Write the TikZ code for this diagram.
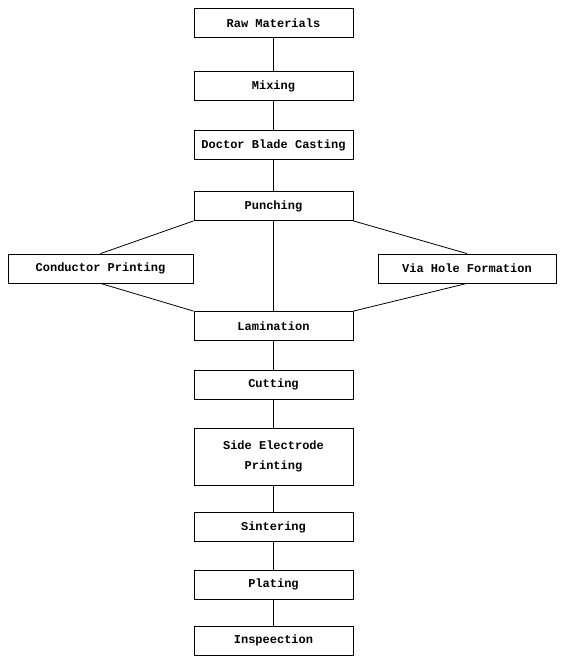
\documentclass[tikz,border=0pt]{standalone}
\usepackage{fontspec}
\setmonofont{Liberation Mono}
\usepackage{tikz}
\usetikzlibrary{positioning}

\begin{document}
\begin{tikzpicture}[x=1pt, y=-1pt,
    stage/.style={draw, line width=0.8pt, minimum width=159pt, minimum height=29pt, inner sep=0pt, font=\ttfamily\bfseries\fontsize{12}{20}\selectfont, align=center},
    link/.style={line width=0.8pt}]
\useasboundingbox (0,0) rectangle (564,662);

\node[stage] (raw) at (273.5, 23) {Raw Materials};
\node[stage] (mix) at (273.5, 86) {Mixing};
\node[stage] (cast) at (273.5, 145) {Doctor Blade Casting};
\node[stage] (punch) at (273.5, 206) {Punching};
\node[stage, minimum width=185pt] (cond) at (100.5, 268.5) {Conductor Printing};
\node[stage, minimum width=178pt] (via) at (467, 268.5) {Via Hole Formation};
\node[stage] (lam) at (273.5, 326) {Lamination};
\node[stage] (cut) at (273.5, 384.5) {Cutting};
\node[stage, minimum height=57pt] (side) at (273.5, 456.5) {Side Electrode\\Printing};
\node[stage] (sint) at (273.5, 527) {Sintering};
\node[stage] (plat) at (273.5, 584.5) {Plating};
\node[stage] (insp) at (273.5, 640.5) {Inspeection};

\draw[link] (raw) -- (mix);
\draw[link] (mix) -- (cast);
\draw[link] (cast) -- (punch);
\draw[link] (punch) -- (lam);
\draw[link] (punch.south west) -- (cond.north);
\draw[link] (cond.south) -- (lam.north west);
\draw[link] (punch.south east) -- (via.north);
\draw[link] (via.south) -- (lam.north east);
\draw[link] (lam) -- (cut);
\draw[link] (cut) -- (side);
\draw[link] (side) -- (sint);
\draw[link] (sint) -- (plat);
\draw[link] (plat) -- (insp);

\end{tikzpicture}
\end{document}
